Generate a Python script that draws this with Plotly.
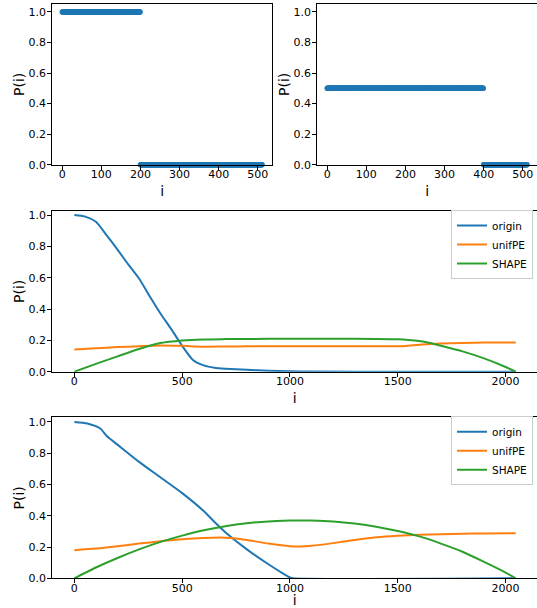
import plotly.graph_objects as go

W, H = 537, 608

# ---------------- data ----------------
# top panels: scatter of P(i) for i = 0..511
top_i = list(range(512))
top_left_p = [1.0] * 200 + [0.0] * 312
top_right_p = [0.5] * 400 + [0.0] * 112

# middle panel
mid_origin_x = [0, 50, 100, 150, 200, 250, 300, 350, 400, 450, 500, 550, 600, 650, 700, 800, 900, 1000, 1100, 1500, 2047]
mid_origin_y = [1.0, 0.99, 0.957, 0.87, 0.78, 0.685, 0.595, 0.48, 0.37, 0.27, 0.165, 0.075, 0.04, 0.025, 0.019, 0.012, 0.006, 0.003, 0.001, 0.0, 0.0]

mid_unif_x = [0, 100, 200, 300, 400, 500, 600, 700, 800, 1000, 1200, 1400, 1500, 1550, 1600, 1700, 1800, 1900, 2047]
mid_unif_y = [0.142, 0.150, 0.157, 0.163, 0.168, 0.165, 0.160, 0.161, 0.162, 0.163, 0.163, 0.162, 0.162, 0.166, 0.172, 0.180, 0.184, 0.186, 0.187]

mid_shape_x = [0, 100, 200, 300, 400, 500, 600, 700, 800, 1000, 1200, 1400, 1500, 1550, 1600, 1650, 1700, 1800, 1900, 2000, 2047]
mid_shape_y = [0.0, 0.05, 0.098, 0.145, 0.183, 0.199, 0.206, 0.208, 0.209, 0.21, 0.21, 0.209, 0.207, 0.203, 0.196, 0.183, 0.166, 0.13, 0.085, 0.03, 0.0]

# bottom panel
bot_origin_x = [0, 60, 120, 150, 200, 300, 400, 500, 600, 650, 700, 800, 900, 1000, 1010, 2047]
bot_origin_y = [1.0, 0.99, 0.958, 0.91, 0.855, 0.745, 0.645, 0.545, 0.43, 0.36, 0.295, 0.185, 0.09, 0.005, 0.0, 0.0]

bot_unif_x = [0, 100, 200, 300, 400, 500, 600, 700, 750, 800, 900, 1000, 1050, 1100, 1200, 1300, 1400, 1500, 1600, 1700, 1800, 1900, 2047]
bot_unif_y = [0.18, 0.19, 0.205, 0.222, 0.237, 0.25, 0.258, 0.26, 0.255, 0.245, 0.222, 0.205, 0.203, 0.208, 0.225, 0.245, 0.262, 0.272, 0.278, 0.282, 0.285, 0.287, 0.288]

bot_shape_x = [0, 100, 200, 300, 400, 500, 600, 700, 800, 900, 1000, 1050, 1100, 1200, 1300, 1400, 1500, 1600, 1700, 1800, 1900, 2000, 2047]
bot_shape_y = [0.0, 0.069, 0.13, 0.185, 0.233, 0.273, 0.307, 0.333, 0.352, 0.364, 0.369, 0.37, 0.369, 0.363, 0.35, 0.33, 0.302, 0.268, 0.222, 0.17, 0.105, 0.037, 0.0]

series_names = ["origin", "unifPE", "SHAPE"]
colors = ["#1f77b4", "#ff7f0e", "#2ca02c"]

# ---------------- figure ----------------
fig = go.Figure()

fig.add_trace(go.Scatter(x=top_i, y=top_left_p, mode="markers", xaxis="x", yaxis="y",
                         marker=dict(size=5.5, color=colors[0]), cliponaxis=False, showlegend=False))
fig.add_trace(go.Scatter(x=top_i, y=top_right_p, mode="markers", xaxis="x2", yaxis="y2",
                         marker=dict(size=5.5, color=colors[0]), cliponaxis=False, showlegend=False))

mid = [(mid_origin_x, mid_origin_y), (mid_unif_x, mid_unif_y), (mid_shape_x, mid_shape_y)]
bot = [(bot_origin_x, bot_origin_y), (bot_unif_x, bot_unif_y), (bot_shape_x, bot_shape_y)]
for k, (xs, ys) in enumerate(mid):
    fig.add_trace(go.Scatter(x=xs, y=ys, mode="lines", name=series_names[k], xaxis="x3", yaxis="y3",
                             line=dict(color=colors[k], width=2, shape="spline", smoothing=0.6),
                             legend="legend"))
for k, (xs, ys) in enumerate(bot):
    fig.add_trace(go.Scatter(x=xs, y=ys, mode="lines", name=series_names[k], xaxis="x4", yaxis="y4",
                             line=dict(color=colors[k], width=2, shape="spline", smoothing=0.6),
                             legend="legend2"))

font_tick = dict(family="DejaVu Sans", size=11, color="black")
font_title = dict(family="DejaVu Sans", size=14, color="black")

def xax(dom, rng, anchor, dtick):
    return dict(domain=dom, range=rng, anchor=anchor, showline=True, linecolor="black", linewidth=1,
                mirror=True, ticks="outside", ticklen=4, tickwidth=1, tickcolor="black",
                showgrid=False, zeroline=False, tickfont=font_tick, dtick=dtick, tick0=0,
                ticklabelstandoff=-5,
                automargin=False, title=dict(text="i", font=font_title, standoff=6))

def yax(dom, rng, anchor):
    return dict(domain=dom, range=rng, anchor=anchor, showline=True, linecolor="black", linewidth=1,
                mirror=True, ticks="outside", ticklen=4, tickwidth=1, tickcolor="black",
                showgrid=False, zeroline=False, tickfont=font_tick, dtick=0.2, tick0=0,
                ticklabelstandoff=-1,
                automargin=False, tickformat=".1f", title=dict(text="P(i)", font=font_title, standoff=0))

xl = 52.3 / W
fig.update_layout(
    width=W, height=H, margin=dict(l=0, r=0, t=0, b=0, autoexpand=False),
    paper_bgcolor="white", plot_bgcolor="white",
    xaxis=xax([xl, 272 / W], [-25.55, 536.55], "y", 100),
    yaxis=yax([(H - 164.7) / H, (H - 4) / H], [0, 1.052], "x"),
    xaxis2=xax([317.3 / W, 1.0], [-25.55, 536.55], "y2", 100),
    yaxis2=yax([(H - 164.7) / H, (H - 4) / H], [0, 1.052], "x2"),
    xaxis3=xax([xl, 1.0], [-102.35, 2145.6], "y3", 500),
    yaxis3=yax([(H - 371.7) / H, (H - 211) / H], [0, 1.026], "x3"),
    xaxis4=xax([xl, 1.0], [-102.35, 2145.6], "y4", 500),
    yaxis4=yax([(H - 578.3) / H, (H - 417.3) / H], [0, 1.03], "x4"),
    legend=dict(x=533 / W, y=(H - 210) / H, xanchor="right", yanchor="top",
                bgcolor="rgba(255,255,255,0.8)", bordercolor="#cccccc", borderwidth=1,
                font=dict(family="DejaVu Sans", size=10.5, color="black")),
    legend2=dict(x=533 / W, y=(H - 416.3) / H, xanchor="right", yanchor="top",
                 bgcolor="rgba(255,255,255,0.8)", bordercolor="#cccccc", borderwidth=1,
                 font=dict(family="DejaVu Sans", size=10.5, color="black")),
)

fig.write_html("out.html", config={"displayModeBar": False},
               post_script="document.body.style.margin='0';document.body.style.overflow='hidden';")
